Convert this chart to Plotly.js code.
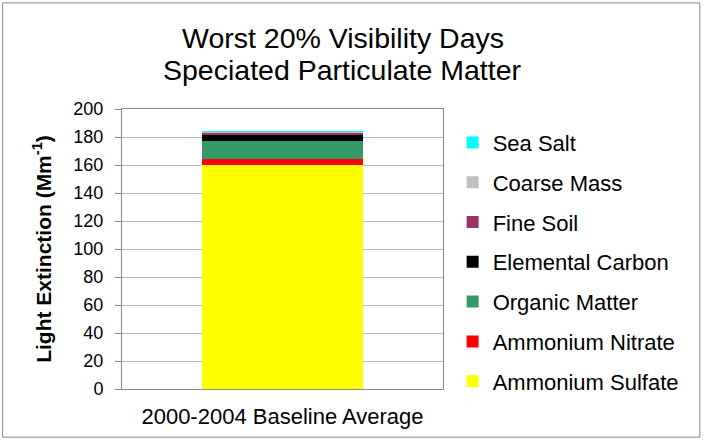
<!DOCTYPE html>
<html>
<head>
<meta charset="utf-8">
<script src="https://cdn.plot.ly/plotly-3.0.1.min.js"></script>
<style>html,body{margin:0;padding:0;background:#fff}#chart{width:704px;height:441px}</style>
</head>
<body>
<div id="chart"></div>
<script>
var categories = ["2000-2004 Baseline Average"];
var seriesNames = ["Ammonium Sulfate", "Ammonium Nitrate", "Organic Matter", "Elemental Carbon", "Fine Soil", "Coarse Mass", "Sea Salt"];
var seriesColors = ["#FFFF00", "#FF0000", "#339966", "#000000", "#993366", "#C0C0C0", "#00FFFF"];
var ammoniumSulfate = [160];
var ammoniumNitrate = [4];
var organicMatter = [13];
var elementalCarbon = [4.5];
var fineSoil = [1.2];
var coarseMass = [1.1];
var seaSalt = [0.7];
var seriesValues = [ammoniumSulfate, ammoniumNitrate, organicMatter, elementalCarbon, fineSoil, coarseMass, seaSalt];
var yTicks = [0, 20, 40, 60, 80, 100, 120, 140, 160, 180, 200];
var titleLines = ["Worst 20% Visibility Days", "Speciated Particulate Matter"];

var traces = seriesNames.map(function (name, i) {
  return {
    type: "bar",
    name: name,
    x: categories,
    y: seriesValues[i],
    marker: { color: seriesColors[i], line: { width: 0 } },
    legendgroup: "g" + i,
    legendrank: 100 - i,
    hoverinfo: "name+y"
  };
});

var FONT = "Liberation Sans, Arial, sans-serif";

var layout = {
  width: 704,
  height: 441,
  barmode: "stack",
  bargap: 0.5,
  paper_bgcolor: "#ffffff",
  plot_bgcolor: "#ffffff",
  margin: { l: 122, r: 261, t: 109, b: 52 },
  font: { family: FONT, color: "#000" },
  xaxis: {
    type: "category",
    showline: true, linecolor: "#888", linewidth: 1, mirror: true,
    ticks: "", showgrid: false,
    tickfont: { size: 22 },
    ticklabelstandoff: 8,
    range: [-0.5, 0.5]
  },
  yaxis: {
    range: [0, 200],
    tickvals: yTicks,
    ticktext: yTicks.map(String),
    ticks: "outside", ticklen: 6, tickcolor: "#888",
    ticklabelstandoff: 8,
    showline: true, linecolor: "#888", linewidth: 1, mirror: true,
    showgrid: true, gridcolor: "#b8b8b8", gridwidth: 1,
    zeroline: false,
    tickfont: { size: 18 },
    title: {
      text: "<b>Light Extinction (Mm<sup>-1</sup>)</b>",
      font: { size: 21 },
      standoff: 16
    }
  },
  legend: {
    x: 1.03, xanchor: "left", xref: "paper",
    y: 0.955, yanchor: "top",
    traceorder: "grouped",
    tracegroupgap: 8.2,
    font: { size: 22 },
    bgcolor: "rgba(0,0,0,0)",
    itemwidth: 30
  },
  annotations: titleLines.map(function (t, i) {
    return {
      text: t, showarrow: false,
      xref: "paper", yref: "paper",
      x: 0.687, xanchor: "center",
      y: i === 0 ? 1.2536 : 1.139, yanchor: "middle",
      font: { size: 28.5, family: FONT, color: "#000" }
    };
  }),
  shapes: [{
    type: "rect", xref: "paper", yref: "paper",
    x0: -0.372, x1: 1.8, y0: -0.172, y1: 1.379,
    line: { color: "#888", width: 1 }, fillcolor: "rgba(0,0,0,0)", layer: "below"
  }]
};

Plotly.newPlot("chart", traces, layout, { displayModeBar: false, staticPlot: true });
</script>
</body>
</html>
